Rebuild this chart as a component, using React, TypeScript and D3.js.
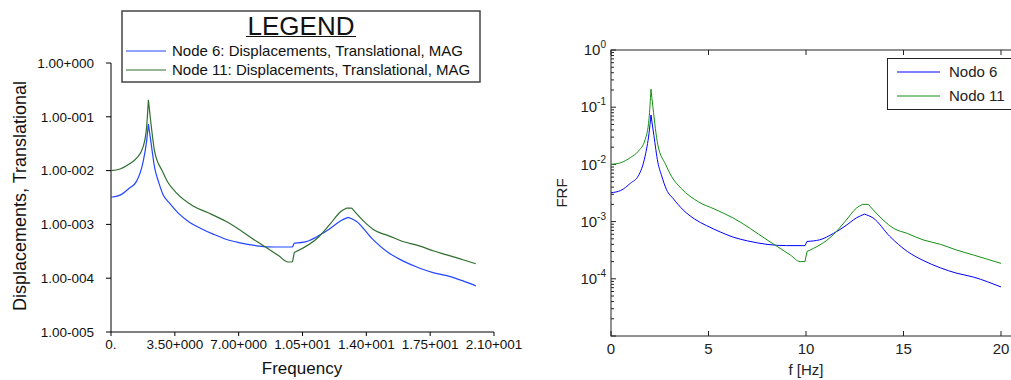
import React from "react";
import * as d3 from "d3";

// Frequencies (Hz) and magnitudes, Node 6
const freq = [0, 0.5, 1.0, 1.4, 1.75, 1.95, 2.05, 2.2, 2.4, 2.6, 2.85, 3.2, 3.7, 4.3, 4.9, 5.6, 6.3, 7.0, 8.0, 9.0, 9.95, 10.05, 10.7, 11.4, 12.0, 12.6, 13.0, 13.45, 14.3, 15.2, 16.0, 16.9, 17.7, 18.6, 19.3, 20.0];
const node6 = [3.2e-3, 3.5e-3, 4.7e-3, 6.3e-3, 1.4e-2, 3.5e-2, 7.3e-2, 3.2e-2, 1.1e-2, 6.3e-3, 3.6e-3, 2.5e-3, 1.6e-3, 1.1e-3, 8.5e-4, 6.6e-4, 5.3e-4, 4.6e-4, 4.0e-4, 3.8e-4, 3.8e-4, 4.5e-4, 4.8e-4, 6.2e-4, 8.3e-4, 1.17e-3, 1.35e-3, 1.15e-3, 5.5e-4, 3.0e-4, 2.1e-4, 1.55e-4, 1.26e-4, 1.07e-4, 8.9e-5, 7.2e-5];
// Break frequencies (peaks / steps) where the curve is not smooth
const breaks6 = [2.05, 9.95, 10.05, 13.0];

// Frequencies (Hz) and magnitudes, Node 11
const freqG = [0, 0.5, 1.0, 1.4, 1.75, 1.95, 2.05, 2.15, 2.4, 2.8, 3.1, 3.6, 4.5, 5.3, 6.3, 8.0, 9.2, 9.7, 9.95, 10.05, 11.4, 12.0, 12.6, 12.9, 13.2, 13.45, 13.95, 14.5, 15.2, 16.0, 16.9, 17.7, 18.6, 19.3, 20.0];
const node11 = [1.0e-2, 1.07e-2, 1.32e-2, 1.7e-2, 2.7e-2, 6.3e-2, 0.206, 0.1, 2.2e-2, 1.0e-2, 6.2e-3, 3.8e-3, 2.2e-3, 1.66e-3, 1.14e-3, 4.8e-4, 2.6e-4, 2.0e-4, 2.0e-4, 3.0e-4, 5.9e-4, 1.0e-3, 1.74e-3, 2.0e-3, 2.0e-3, 1.6e-3, 1.07e-3, 7.6e-4, 6.2e-4, 4.8e-4, 4.0e-4, 3.2e-4, 2.6e-4, 2.2e-4, 1.86e-4];
const breaks11 = [2.05, 9.95, 10.05, 12.9, 13.2];

// Left chart tick labels
const leftYTicks = [1, 1e-1, 1e-2, 1e-3, 1e-4, 1e-5];
const leftYLabels = ["1.00+000", "1.00-001", "1.00-002", "1.00-003", "1.00-004", "1.00-005"];
const leftXTicks = [0, 3.5, 7, 10.5, 14, 17.5, 21];
const leftXLabels = ["0.", "3.50+000", "7.00+000", "1.05+001", "1.40+001", "1.75+001", "2.10+001"];
const leftLegend = ["Node 6: Displacements, Translational, MAG", "Node 11: Displacements, Translational, MAG"];

// Right chart tick labels
const rightXTicks = [0, 5, 10, 15, 20];
const rightYTicks = [1, 1e-1, 1e-2, 1e-3, 1e-4];
const rightYExp = ["0", "-1", "-2", "-3", "-4"];
const rightLegend = ["Nodo 6", "Nodo 11"];

const FONT = "'Liberation Sans', Arial, sans-serif";

type P = [number, number];

function segmented(pts: P[], breaks: number[], gen: d3.Line<P>): string {
  const segs: P[][] = [];
  let cur: P[] = [];
  pts.forEach((p) => {
    cur.push(p);
    if (breaks.includes(p[0])) {
      segs.push(cur);
      cur = [p];
    }
  });
  if (cur.length > 1) segs.push(cur);
  return segs.map((s) => gen(s) || "").join("");
}

export default function App() {
  const s6 = freq.map((f, i) => [f, node6[i]] as P);
  const s11 = freqG.map((f, i) => [f, node11[i]] as P);

  // Left chart
  const xL = d3.scaleLinear().domain([0, 21]).range([111, 494]);
  const yL = d3.scaleLog().domain([1e-5, 1]).range([332, 63]);
  const lineL = d3.line<P>().x((d) => xL(d[0])).y((d) => yL(d[1])).curve(d3.curveMonotoneX);

  // Right chart
  const xR = d3.scaleLinear().domain([0, 22]).range([611, 1040]);
  const yR = d3.scaleLog().domain([1e-5, 1]).range([336, 50]);
  const lineR = d3.line<P>().x((d) => xR(d[0])).y((d) => yR(d[1])).curve(d3.curveMonotoneX);

  const minor: number[] = [];
  for (let e = -5; e < 0; e++) for (let m = 2; m <= 9; m++) minor.push(m * Math.pow(10, e));

  const lColors = ["#2346ff", "#2f6e2f"];
  const rColors = ["#0000ff", "#138f13"];

  return (
    <svg width={1011} height={380} style={{ position: "absolute", left: 0, top: 0, background: "#fff" }} fontFamily={FONT}>
      <rect x={0} y={0} width={1011} height={380} fill="#fff" />
      {/* ===== Left chart ===== */}
      <g>
        <line x1={111} x2={111} y1={yL(1)} y2={yL(1e-5)} stroke="#000" />
        <line x1={111} x2={xL(21)} y1={332} y2={332} stroke="#000" />
        {leftYTicks.map((t, i) => (
          <g key={"ly" + i}>
            <line x1={106} x2={111} y1={yL(t)} y2={yL(t)} stroke="#000" />
            <text x={94} y={yL(t)} dy="0.35em" textAnchor="end" fontSize={13.5} fill="#111">{leftYLabels[i]}</text>
          </g>
        ))}
        {leftXTicks.map((t, i) => (
          <g key={"lx" + i}>
            <line x1={xL(t)} x2={xL(t)} y1={332} y2={336} stroke="#000" />
            <text x={xL(t)} y={344} dy="0.35em" textAnchor="middle" fontSize={13.5} fill="#111">{leftXLabels[i]}</text>
          </g>
        ))}
        <text x={302} y={368} dy="0.35em" textAnchor="middle" fontSize={17} fill="#111">Frequency</text>
        <text transform="translate(20,196) rotate(-90)" dy="0.35em" textAnchor="middle" fontSize={18} fill="#111">Displacements, Translational</text>
        <path d={segmented(s6, breaks6, lineL)} fill="none" stroke={lColors[0]} strokeWidth={1.2} />
        <path d={segmented(s11, breaks11, lineL)} fill="none" stroke={lColors[1]} strokeWidth={1.2} />
        {/* legend */}
        <rect x={122} y={11} width={358} height={71} fill="#fff" stroke="#444" strokeWidth={1.5} />
        <text x={301} y={26} dy="0.35em" textAnchor="middle" fontSize={26} fill="#111">LEGEND</text>
        <line x1={246} x2={356} y1={36.5} y2={36.5} stroke="#111" strokeWidth={1.2} />
        {leftLegend.map((t, i) => (
          <g key={"ll" + i}>
            <line x1={126} x2={166} y1={51 + i * 19} y2={51 + i * 19} stroke={lColors[i]} strokeWidth={1.2} />
            <text x={172} y={51 + i * 19} dy="0.35em" fontSize={15} fill="#111">{t}</text>
          </g>
        ))}
      </g>

      {/* ===== Right chart ===== */}
      <g>
        <rect x={611} y={50} width={xR(22) - 611} height={286} fill="none" stroke="#222" />
        {rightXTicks.map((t, i) => (
          <g key={"rx" + i}>
            <line x1={xR(t)} x2={xR(t)} y1={336} y2={331} stroke="#222" />
            <line x1={xR(t)} x2={xR(t)} y1={50} y2={55} stroke="#222" />
            <text x={xR(t)} y={349} dy="0.35em" textAnchor="middle" fontSize={15} fill="#222">{String(t)}</text>
          </g>
        ))}
        {minor.map((m, i) => (
          <line key={"mn" + i} x1={611} x2={614} y1={yR(m)} y2={yR(m)} stroke="#222" />
        ))}
        {[...rightYTicks, 1e-5].map((t, i) => (
          <line key={"ryt" + i} x1={611} x2={616} y1={yR(t)} y2={yR(t)} stroke="#222" />
        ))}
        {rightYTicks.map((t, i) => (
          <text key={"ry" + i} x={606} y={yR(t)} dy="0.35em" textAnchor="end" fontSize={15} fill="#222">
            10<tspan dy={-7} fontSize={10}>{rightYExp[i]}</tspan>
          </text>
        ))}
        <text x={806} y={370} dy="0.35em" textAnchor="middle" fontSize={15} fill="#222">f [Hz]</text>
        <text transform="translate(562,193) rotate(-90)" dy="0.35em" textAnchor="middle" fontSize={15} fill="#222">FRF</text>
        <path d={segmented(s6, breaks6, lineR)} fill="none" stroke={rColors[0]} strokeWidth={1} />
        <path d={segmented(s11, breaks11, lineR)} fill="none" stroke={rColors[1]} strokeWidth={1} />
        {/* legend */}
        <rect x={887.5} y={58.5} width={150} height={51} fill="#fff" stroke="#222" />
        {rightLegend.map((t, i) => (
          <g key={"rl" + i}>
            <line x1={897} x2={940} y1={72 + i * 24} y2={72 + i * 24} stroke={rColors[i]} />
            <text x={949} y={72 + i * 24} dy="0.35em" fontSize={15} fill="#222">{t}</text>
          </g>
        ))}
      </g>
    </svg>
  );
}
